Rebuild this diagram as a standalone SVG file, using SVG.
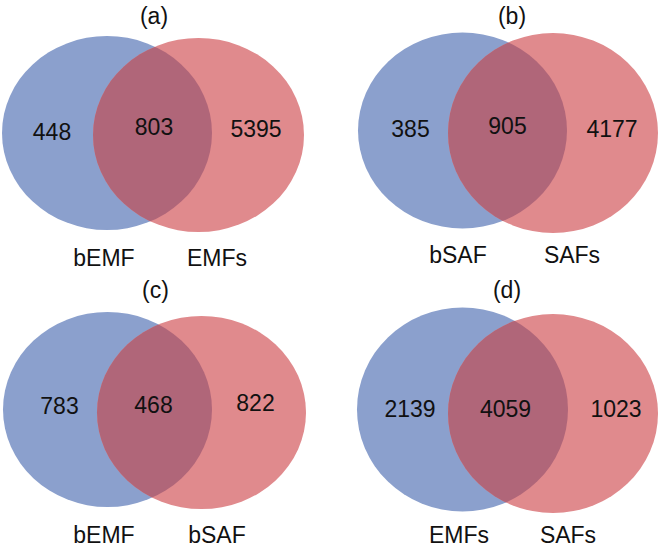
<svg xmlns="http://www.w3.org/2000/svg" width="660" height="548" viewBox="0 0 660 548">
<style>
.b{fill:#8ba0cd}
.r{fill:#e08a8d}
.o{fill:#b06679}
text{font-family:"Liberation Sans",Arial,sans-serif;font-size:23px;fill:#111;text-anchor:middle}
</style>
<defs>
<clipPath id="ca"><ellipse cx="107" cy="133" rx="105" ry="97"/></clipPath>
<clipPath id="cb"><ellipse cx="462.5" cy="130.5" rx="104.5" ry="98"/></clipPath>
<clipPath id="cc"><ellipse cx="107.5" cy="409.5" rx="104.5" ry="97.5"/></clipPath>
<clipPath id="cd"><ellipse cx="462.5" cy="409.5" rx="105.5" ry="102"/></clipPath>
</defs>
<rect width="660" height="548" fill="#fff"/>
<g id="panel-a">
<text x="154" y="24">(a)</text>
<ellipse class="b" cx="107" cy="133" rx="105" ry="97"/>
<ellipse class="r" cx="198.5" cy="135" rx="105.5" ry="97"/>
<ellipse class="o" cx="198.5" cy="135" rx="105.5" ry="97" clip-path="url(#ca)"/>
<text x="52" y="140">448</text>
<text x="154" y="135">803</text>
<text x="256" y="137">5395</text>
<text x="104" y="266">bEMF</text>
<text x="217" y="266">EMFs</text>
</g>
<g id="panel-b">
<text x="512" y="24">(b)</text>
<ellipse class="b" cx="462.5" cy="130.5" rx="104.5" ry="98"/>
<ellipse class="r" cx="553" cy="133" rx="105" ry="100"/>
<ellipse class="o" cx="553" cy="133" rx="105" ry="100" clip-path="url(#cb)"/>
<text x="410.5" y="137">385</text>
<text x="507.5" y="134">905</text>
<text x="612" y="137">4177</text>
<text x="458" y="263">bSAF</text>
<text x="572" y="263">SAFs</text>
</g>
<g id="panel-c">
<text x="155.5" y="298">(c)</text>
<ellipse class="b" cx="107.5" cy="409.5" rx="104.5" ry="97.5"/>
<ellipse class="r" cx="201.5" cy="412.5" rx="104.5" ry="96.5"/>
<ellipse class="o" cx="201.5" cy="412.5" rx="104.5" ry="96.5" clip-path="url(#cc)"/>
<text x="59.5" y="414">783</text>
<text x="153.5" y="413">468</text>
<text x="255.5" y="411">822</text>
<text x="104" y="543">bEMF</text>
<text x="217" y="543">bSAF</text>
</g>
<g id="panel-d">
<text x="507" y="298">(d)</text>
<ellipse class="b" cx="462.5" cy="409.5" rx="105.5" ry="102"/>
<ellipse class="r" cx="553" cy="413.5" rx="105" ry="99.5"/>
<ellipse class="o" cx="553" cy="413.5" rx="105" ry="99.5" clip-path="url(#cd)"/>
<text x="410" y="417">2139</text>
<text x="505.5" y="417">4059</text>
<text x="616" y="417">1023</text>
<text x="459" y="543">EMFs</text>
<text x="568" y="543">SAFs</text>
</g>
</svg>
